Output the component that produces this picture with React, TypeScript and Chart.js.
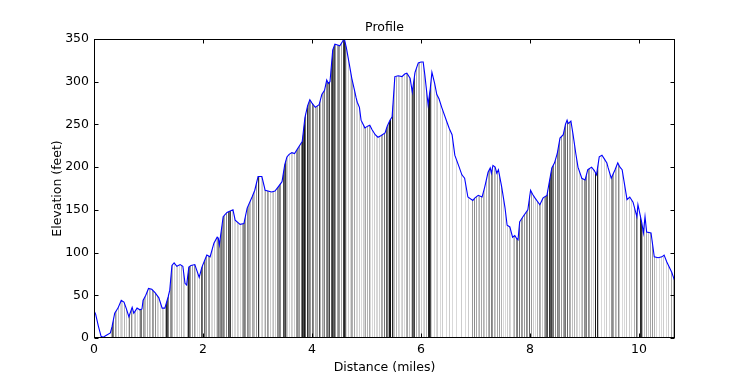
import React, { useEffect, useRef } from "react";
import { Chart, registerables } from "chart.js";
Chart.register(...registerables);

// Elevation profile (miles, feet)
const distance = [
  0.0, 0.03, 0.08, 0.13, 0.17, 0.22, 0.3, 0.33, 0.38, 0.44, 0.5, 0.55, 0.59, 0.64, 0.7, 0.73, 0.79, 0.84, 0.88, 0.9,
  0.95, 1.0, 1.06, 1.12, 1.19, 1.25, 1.3, 1.36, 1.39, 1.43, 1.47, 1.52, 1.58, 1.63, 1.67, 1.7, 1.74, 1.78, 1.85, 1.93,
  1.98, 2.07, 2.13, 2.2, 2.26, 2.28, 2.3, 2.37, 2.44, 2.55, 2.59, 2.68, 2.75, 2.81, 2.9, 2.95, 3.01, 3.08, 3.14, 3.26,
  3.32, 3.38, 3.45, 3.5, 3.54, 3.58, 3.63, 3.68, 3.72, 3.82, 3.87, 3.92, 3.96, 4.0, 4.06, 4.13, 4.18, 4.23, 4.27, 4.3,
  4.33, 4.38, 4.42, 4.47, 4.51, 4.56, 4.59, 4.63, 4.68, 4.73, 4.78, 4.81, 4.83, 4.87, 4.9, 4.97, 5.02, 5.06, 5.1, 5.16,
  5.21, 5.27, 5.34, 5.38, 5.43, 5.47, 5.52, 5.58, 5.65, 5.7, 5.74, 5.8, 5.84, 5.89, 5.95, 6.0, 6.04, 6.07, 6.13, 6.17,
  6.2, 6.25, 6.29, 6.33, 6.38, 6.48, 6.52, 6.57, 6.62, 6.7, 6.75, 6.8, 6.86, 6.95, 6.99, 7.05, 7.12, 7.17, 7.23, 7.27,
  7.29, 7.32, 7.36, 7.39, 7.42, 7.48, 7.54, 7.58, 7.63, 7.68, 7.72, 7.75, 7.78, 7.81, 7.87, 7.96, 8.01, 8.05, 8.09, 8.18,
  8.24, 8.31, 8.4, 8.45, 8.5, 8.55, 8.61, 8.65, 8.68, 8.7, 8.75, 8.79, 8.84, 8.88, 8.95, 9.01, 9.06, 9.13, 9.18, 9.22,
  9.27, 9.32, 9.36, 9.41, 9.43, 9.49, 9.56, 9.61, 9.65, 9.69, 9.78, 9.83, 9.89, 9.96, 9.98, 10.05, 10.08, 10.11, 10.14, 10.22,
  10.28, 10.35, 10.42, 10.46, 10.51, 10.6, 10.66,
];
const elevation = [
  32, 28, 14, 2, 1, 3, 6, 13, 29, 35, 44, 42, 35, 25, 36, 29, 35, 33, 34, 44,
  50, 58, 57, 53, 47, 35, 35, 48, 56, 85, 88, 84, 86, 84, 64, 62, 83, 85, 86, 71,
  83, 97, 95, 111, 118, 117, 109, 142, 147, 150, 138, 133, 134, 152, 165, 173, 189, 189, 173, 171,
  172, 177, 183, 203, 212, 215, 217, 216, 220, 230, 258, 272, 279, 275, 270, 273, 285, 290, 302, 298,
  300, 337, 344, 343, 342, 347, 351, 340, 322, 304, 290, 281, 276, 270, 255, 246, 248, 249, 244, 238,
  235, 237, 240, 248, 255, 259, 306, 307, 306, 309, 310, 304, 288, 311, 322, 323, 323, 308, 273, 292,
  311, 298, 285, 280, 270, 252, 245, 238, 214, 200, 191, 187, 165, 161, 164, 167, 165, 177, 194, 199,
  193, 202, 200, 193, 197, 177, 153, 132, 130, 118, 120, 117, 115, 136, 142, 150, 173, 168, 164, 156,
  164, 167, 199, 205, 216, 234, 238, 250, 255, 251, 254, 238, 216, 200, 187, 185, 197, 200, 196, 191,
  212, 214, 210, 205, 200, 187, 197, 205, 200, 197, 162, 165, 159, 142, 156, 135, 123, 142, 124, 123,
  95, 94, 95, 97, 89, 77, 66,
];

// Vertical shading lines: [distance (miles), darkness 0..1]
const bars: [number, number][] = [
  [0.31,0.3],[0.33,0.65],[0.35,0.5],[0.38,0.4],[0.41,0.2],[0.44,0.25],[0.47,0.15],[0.49,0.2],[0.52,0.15],[0.55,0.3],
  [0.58,0.2],[0.62,0.15],[0.65,0.5],[0.67,0.45],[0.7,0.15],[0.73,0.2],[0.76,0.25],[0.79,0.15],[0.82,0.2],[0.85,0.5],
  [0.87,0.55],[0.89,0.4],[0.92,0.3],[0.94,0.25],[0.97,0.3],[1.0,0.3],[1.03,0.2],[1.07,0.4],[1.09,0.35],[1.12,0.45],
  [1.15,0.2],[1.18,0.15],[1.21,0.15],[1.24,0.2],[1.27,0.15],[1.3,0.3],[1.32,0.85],[1.34,0.7],[1.36,0.5],[1.39,0.4],
  [1.41,0.45],[1.44,0.3],[1.47,0.15],[1.5,0.15],[1.53,0.2],[1.56,0.15],[1.6,0.3],[1.63,0.2],[1.66,0.15],[1.7,0.3],
  [1.73,0.85],[1.75,0.6],[1.77,0.4],[1.8,0.35],[1.83,0.4],[1.86,0.2],[1.89,0.15],[1.92,0.2],[1.96,0.65],[1.98,0.55],
  [2.01,0.6],[2.03,0.3],[2.06,0.4],[2.09,0.35],[2.11,0.4],[2.14,0.15],[2.17,0.15],[2.2,0.2],[2.23,0.15],[2.25,0.4],
  [2.27,0.5],[2.29,0.35],[2.31,0.45],[2.33,0.55],[2.35,0.4],[2.37,0.5],[2.39,0.35],[2.42,0.45],[2.45,0.7],[2.47,0.6],
  [2.5,0.75],[2.53,0.2],[2.56,0.15],[2.59,0.15],[2.62,0.2],[2.65,0.15],[2.68,0.15],[2.71,0.3],[2.73,0.45],[2.75,0.5],
  [2.77,0.4],[2.8,0.45],[2.82,0.35],[2.85,0.3],[2.87,0.25],[2.9,0.35],[2.92,0.3],[2.94,0.25],[2.97,0.4],[3.0,0.8],
  [3.03,0.15],[3.06,0.15],[3.09,0.2],[3.12,0.15],[3.14,0.35],[3.17,0.4],[3.2,0.3],[3.23,0.2],[3.26,0.15],[3.29,0.25],
  [3.32,0.2],[3.35,0.45],[3.37,0.4],[3.4,0.5],[3.42,0.45],[3.46,0.7],[3.48,0.6],[3.5,0.75],[3.53,0.3],[3.55,0.2],
  [3.58,0.15],[3.61,0.2],[3.64,0.15],[3.67,0.2],[3.7,0.4],[3.72,0.45],[3.75,0.35],[3.77,0.4],[3.79,0.5],[3.82,0.85],
  [3.84,0.7],[3.86,0.9],[3.88,0.6],[3.9,0.8],[3.93,0.45],[3.95,0.5],[3.97,0.4],[4.0,0.55],[4.02,0.45],[4.05,0.3],
  [4.08,0.25],[4.1,0.35],[4.12,0.7],[4.15,0.3],[4.18,0.35],[4.2,0.25],[4.22,0.5],[4.25,0.45],[4.27,0.55],[4.3,0.4],
  [4.32,0.75],[4.34,0.65],[4.36,0.8],[4.38,0.6],[4.4,0.7],[4.43,0.4],[4.45,0.35],[4.48,0.45],[4.5,0.4],[4.53,0.35],
  [4.56,0.75],[4.58,0.85],[4.6,0.6],[4.63,0.15],[4.66,0.2],[4.69,0.15],[4.71,0.35],[4.74,0.3],[4.77,0.35],[4.8,0.15],
  [4.83,0.15],[4.86,0.2],[4.89,0.15],[4.93,0.2],[4.96,0.15],[4.98,0.35],[5.01,0.3],[5.04,0.35],[5.07,0.15],[5.1,0.15],
  [5.13,0.2],[5.17,0.15],[5.2,0.15],[5.23,0.2],[5.26,0.35],[5.29,0.3],[5.32,0.55],[5.35,0.65],[5.37,0.5],[5.39,0.3],
  [5.42,0.9],[5.44,0.95],[5.46,0.85],[5.49,0.3],[5.51,0.25],[5.54,0.3],[5.57,0.2],[5.6,0.15],[5.63,0.15],[5.66,0.2],
  [5.69,0.15],[5.72,0.3],[5.75,0.35],[5.78,0.25],[5.81,0.2],[5.84,0.7],[5.86,0.6],[5.88,0.75],[5.91,0.3],[5.94,0.25],
  [5.97,0.3],[6.0,0.2],[6.03,0.15],[6.06,0.2],[6.09,0.3],[6.12,0.85],[6.14,0.9],[6.16,0.7],[6.19,0.2],[6.23,0.15],
  [6.27,0.15],[6.3,0.2],[6.35,0.15],[6.39,0.2],[6.45,0.15],[6.51,0.2],[6.57,0.15],[6.64,0.15],[6.73,0.2],[6.8,0.15],
  [6.87,0.2],[6.94,0.4],[6.97,0.45],[7.0,0.35],[7.04,0.2],[7.07,0.3],[7.1,0.35],[7.13,0.3],[7.16,0.2],[7.19,0.25],
  [7.22,0.3],[7.25,0.4],[7.28,0.5],[7.3,0.4],[7.33,0.3],[7.36,0.2],[7.4,0.35],[7.43,0.4],[7.46,0.3],[7.5,0.15],
  [7.54,0.15],[7.58,0.2],[7.61,0.2],[7.64,0.15],[7.68,0.2],[7.71,0.3],[7.74,0.45],[7.77,0.5],[7.8,0.55],[7.83,0.4],
  [7.86,0.35],[7.89,0.4],[7.92,0.45],[7.95,0.35],[7.98,0.6],[8.01,0.4],[8.05,0.2],[8.09,0.15],[8.13,0.3],[8.16,0.35],
  [8.19,0.3],[8.22,0.2],[8.25,0.3],[8.28,0.45],[8.3,0.6],[8.32,0.7],[8.34,0.8],[8.36,0.65],[8.38,0.75],[8.41,0.5],
  [8.43,0.55],[8.46,0.45],[8.49,0.5],[8.52,0.4],[8.54,0.45],[8.57,0.4],[8.6,0.35],[8.63,0.45],[8.65,0.55],[8.68,0.6],
  [8.71,0.35],[8.74,0.3],[8.77,0.25],[8.8,0.3],[8.84,0.2],[8.87,0.15],[8.9,0.15],[8.93,0.2],[8.96,0.3],[8.99,0.45],
  [9.01,0.4],[9.03,0.5],[9.06,0.45],[9.08,0.35],[9.12,0.2],[9.16,0.15],[9.2,0.9],[9.22,0.85],[9.25,0.2],[9.3,0.15],
  [9.35,0.15],[9.4,0.2],[9.44,0.15],[9.48,0.4],[9.5,0.45],[9.52,0.35],[9.55,0.3],[9.58,0.2],[9.61,0.45],[9.64,0.2],
  [9.68,0.15],[9.72,0.15],[9.77,0.2],[9.82,0.2],[9.86,0.15],[9.9,0.3],[9.94,0.55],[9.97,0.3],[10.01,0.85],[10.03,0.8],
  [10.06,0.3],[10.09,0.25],[10.13,0.35],[10.17,0.2],[10.21,0.35],[10.24,0.4],[10.27,0.3],[10.31,0.15],[10.36,0.15],[10.4,0.15],
  [10.44,0.2],[10.49,0.15],[10.54,0.2],[10.58,0.35],[10.62,0.3],
];

const xTicks = [0, 2, 4, 6, 8, 10];
const yTicks = [0, 50, 100, 150, 200, 250, 300, 350];
const X_MAX = 10.66;
const Y_MAX = 350;
const TITLE = "Profile";
const X_LABEL = "Distance (miles)";
const Y_LABEL = "Elevation (feet)";

const FONT = "'DejaVu Sans', 'Bitstream Vera Sans', sans-serif";
const FS = 12.5;

export default function App() {
  const ref = useRef<HTMLCanvasElement>(null);

  useEffect(() => {
    if (!ref.current) return;

    const shading = {
      id: "shading",
      beforeDatasetsDraw(chart: any) {
        const meta = chart.getDatasetMeta(0);
        const pts = meta.data;
        if (!pts || !pts.length) return;
        const { ctx, chartArea: a, scales } = chart;
        const x = scales.x;
        ctx.save();
        ctx.beginPath();
        ctx.rect(a.left, a.top, a.right - a.left, a.bottom - a.top);
        ctx.clip();
        ctx.beginPath();
        ctx.moveTo(pts[0].x, a.bottom);
        for (const p of pts) ctx.lineTo(p.x, p.y);
        ctx.lineTo(pts[pts.length - 1].x, a.bottom);
        ctx.closePath();
        ctx.clip();
        ctx.lineWidth = 1;
        for (const [d, s] of bars) {
          const px = Math.round(x.getPixelForValue(d)) + 0.5;
          ctx.strokeStyle = `rgba(0,0,0,${s})`;
          ctx.beginPath();
          ctx.moveTo(px, a.top);
          ctx.lineTo(px, a.bottom);
          ctx.stroke();
        }
        ctx.restore();
      },
    };

    const frame = {
      id: "frame",
      afterDraw(chart: any) {
        const { ctx, chartArea: a, scales } = chart;
        ctx.save();
        ctx.strokeStyle = "#000";
        ctx.lineWidth = 1;
        const L = Math.round(a.left) + 0.5;
        const R = Math.round(a.right) - 0.5;
        const T = Math.round(a.top) + 0.5;
        const B = Math.round(a.bottom) - 0.5;
        ctx.strokeRect(L, T, R - L, B - T);
        ctx.beginPath();
        for (const v of xTicks) {
          const px = Math.round(scales.x.getPixelForValue(v)) + 0.5;
          ctx.moveTo(px, B);
          ctx.lineTo(px, B - 4);
          ctx.moveTo(px, T);
          ctx.lineTo(px, T + 4);
        }
        for (const v of yTicks) {
          const py = Math.round(scales.y.getPixelForValue(v)) + 0.5;
          ctx.moveTo(L, py);
          ctx.lineTo(L + 4, py);
          ctx.moveTo(R, py);
          ctx.lineTo(R - 4, py);
        }
        ctx.stroke();
        ctx.fillStyle = "#000";
        ctx.font = `${FS}px ${FONT}`;
        ctx.textAlign = "center";
        ctx.textBaseline = "middle";
        ctx.fillText(TITLE, (a.left + a.right) / 2, 28);
        ctx.restore();
      },
    };

    const chart = new Chart(ref.current, {
      type: "line",
      data: {
        datasets: [
          {
            data: distance.map((d, i) => ({ x: d, y: elevation[i] })),
            borderColor: "#0000ff",
            borderWidth: 1.1,
            pointRadius: 0,
            tension: 0,
            fill: false,
          },
        ],
      },
      options: {
        responsive: false,
        animation: false,
        devicePixelRatio: 1,
        layout: { padding: { top: 39, right: 75, bottom: 0, left: 0 } },
        plugins: {
          legend: { display: false },
          tooltip: { enabled: false },
          title: { display: false },
        },
        scales: {
          x: {
            type: "linear",
            min: 0,
            max: X_MAX,
            grid: { display: false, drawTicks: false },
            border: { display: false },
            ticks: {
              stepSize: 2,
              includeBounds: false,
              padding: 4,
              color: "#000",
              font: { family: FONT, size: FS },
              maxRotation: 0,
            },
            title: {
              display: true,
              text: X_LABEL,
              color: "#000",
              font: { family: FONT, size: FS },
              padding: { top: 0, bottom: 0 },
            },
            afterFit(s: any) {
              s.height = 37;
            },
          },
          y: {
            type: "linear",
            min: 0,
            max: Y_MAX,
            grid: { display: false, drawTicks: false },
            border: { display: false },
            ticks: {
              stepSize: 50,
              padding: 5,
              color: "#000",
              font: { family: FONT, size: FS },
            },
            title: {
              display: true,
              text: Y_LABEL,
              color: "#000",
              font: { family: FONT, size: FS },
              padding: { top: 50, bottom: 0 },
            },
            afterFit(s: any) {
              s.width = 94;
            },
          },
        },
      },
      plugins: [shading, frame],
    } as any);

    return () => chart.destroy();
  }, []);

  return (
    <div style={{ position: "fixed", left: 0, top: 0, width: 750, height: 375, background: "#fff" }}>
      <canvas ref={ref} width={750} height={375} style={{ display: "block" }} />
    </div>
  );
}
